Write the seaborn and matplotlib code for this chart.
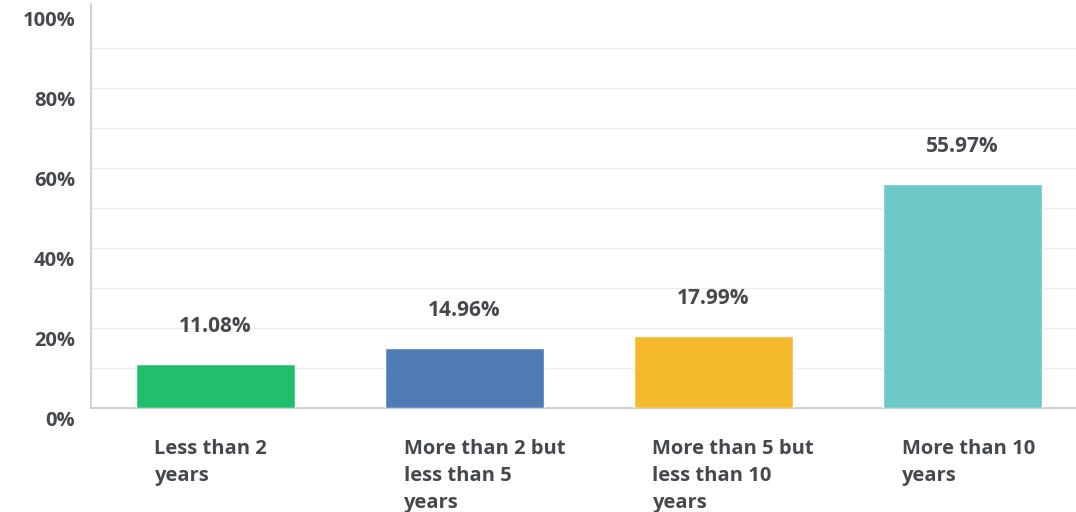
import matplotlib
matplotlib.use("Agg")
import matplotlib.pyplot as plt
import matplotlib.transforms as mtransforms
import seaborn as sns
import pandas as pd

categories = [
    "Less than 2\nyears",
    "More than 2 but\nless than 5\nyears",
    "More than 5 but\nless than 10\nyears",
    "More than 10\nyears",
]
values = [11.08, 14.96, 17.99, 55.97]
colors = ["#21BF6B", "#507CB6", "#F5B92E", "#6DC8C8"]
y_ticks = [0, 20, 40, 60, 80, 100]
y_tick_labels = ["0%", "20%", "40%", "60%", "80%", "100%"]

sns.set_theme(style="white")
plt.rcParams["font.family"] = ["Open Sans", "DejaVu Sans"]

text_color = "#45494e"

df = pd.DataFrame({"category": categories, "value": values})

fig = plt.figure(figsize=(10.76, 5.12), dpi=100)
ax = fig.add_axes([91 / 1076, 104 / 512, 996 / 1076, 400 / 512])

sns.barplot(data=df, x="category", y="value", hue="category",
            palette=colors, legend=False, width=0.64, saturation=1,
            ax=ax, zorder=3)

ax.set_ylim(0, 100)
ax.set_xlim(-0.5, len(categories) - 0.5)
ax.set_yticks(y_ticks)
ax.set_yticklabels(y_tick_labels)
ax.set_yticks([10, 30, 50, 70, 90], minor=True)
ax.set_xlabel("")
ax.set_ylabel("")

# light horizontal grid at every 10%
ax.grid(axis="y", which="both", color="#ececec", linewidth=1, zorder=0)
ax.yaxis.get_major_ticks()[0].gridline.set_visible(False)
ax.yaxis.get_major_ticks()[-1].gridline.set_visible(False)
ax.set_axisbelow(True)

for side in ["top", "right"]:
    ax.spines[side].set_visible(False)
ax.spines["left"].set_color("#c8c8c8")
ax.spines["bottom"].set_color("#c8c8c8")
ax.spines["left"].set_linewidth(1.2)
ax.spines["bottom"].set_linewidth(1.2)
ax.spines["left"].set_bounds(0, 101)

ax.tick_params(axis="both", which="both", length=0)
ax.tick_params(axis="y", pad=11.5, labelsize=14.5, labelcolor=text_color)
ax.tick_params(axis="x", pad=22, labelsize=14.5, labelcolor=text_color)

# y labels sit a little below their gridlines
y_shift = mtransforms.ScaledTranslation(0, -10 / 100, fig.dpi_scale_trans)
for lbl in ax.get_yticklabels():
    lbl.set_transform(lbl.get_transform() + y_shift)
    lbl.set_fontweight("bold")

# x labels left-aligned near the left edge of each bar
x_shift = mtransforms.ScaledTranslation(-61 / 100, 0, fig.dpi_scale_trans)
for lbl in ax.get_xticklabels():
    lbl.set_horizontalalignment("left")
    lbl.set_transform(lbl.get_transform() + x_shift)
    lbl.set_fontweight("bold")
    lbl.set_linespacing(1.48)

# value labels above bars
for i, v in enumerate(values):
    ax.annotate(f"{v:.2f}%", xy=(i, v), xytext=(0, 27),
                textcoords="offset points", ha="center", va="center",
                fontsize=15, fontweight="bold", color=text_color)

fig.savefig("out.png", dpi=100)
